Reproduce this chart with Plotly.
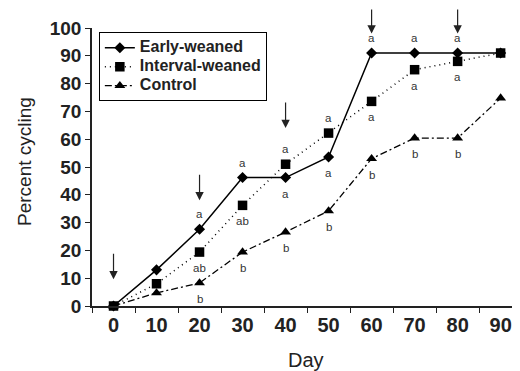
import plotly.graph_objects as go

days = [0, 10, 20, 30, 40, 50, 60, 70, 80, 90]
early = [0, 13, 27.6, 46.2, 46.2, 53.6, 91, 91, 91, 91]
interval = [0, 8, 19.4, 36.2, 51, 62.2, 73.6, 85, 88, 91]
control = [0, 4.7, 8.3, 19.4, 26.6, 34.2, 53, 60.4, 60.4, 74.8]

series_names = ["Early-weaned", "Interval-weaned", "Control"]

# significance letters and whether they sit above or below the point
early_letters = ["", "", "a", "a", "a", "a", "a", "a", "a", ""]
early_pos = ["", "", "above", "above", "below", "below", "above", "above", "above", ""]
interval_letters = ["", "", "ab", "ab", "a", "a", "a", "a", "a", ""]
interval_pos = ["", "", "below", "below", "above", "above", "below", "below", "below", ""]
control_letters = ["", "", "b", "b", "b", "b", "b", "b", "b", ""]
control_pos = ["", "", "below", "below", "below", "below", "below", "below", "below", ""]

arrow_days = [0, 20, 40, 60, 80]
arrow_tips = [9.6, 38, 64, 98, 98]

xtick_vals = days
xtick_text = [str(d) for d in days]
ytick_vals = [0, 10, 20, 30, 40, 50, 60, 70, 80, 90, 100]

FONT = "Liberation Sans, Arial, Helvetica, sans-serif"


def legend_label(s):
    return '<span style="font-size:16px">' + s + "</span>"


fig = go.Figure()
fig.add_trace(go.Scatter(x=days, y=early, name=legend_label(series_names[0]),
                         mode="lines+markers",
                         line=dict(color="black", width=1.5),
                         marker=dict(symbol="diamond", size=8.5, color="black"),
                         cliponaxis=False))
fig.add_trace(go.Scatter(x=days, y=interval, name=legend_label(series_names[1]),
                         mode="lines+markers",
                         line=dict(color="black", width=1.5, dash="1px,4px"),
                         marker=dict(symbol="square", size=9.5, color="black"),
                         cliponaxis=False))
fig.add_trace(go.Scatter(x=days, y=control, name=legend_label(series_names[2]),
                         mode="lines+markers",
                         line=dict(color="black", width=1.3, dash="7px,3px,2px,3px"),
                         marker=dict(symbol="triangle-up", size=9.5, color="black"),
                         cliponaxis=False))

annotations = []
for vals, letters, pos in [(early, early_letters, early_pos),
                           (interval, interval_letters, interval_pos),
                           (control, control_letters, control_pos)]:
    for d, v, t, p in zip(days, vals, letters, pos):
        if not t:
            continue
        annotations.append(dict(x=d, y=v, xref="x", yref="y", text=t, showarrow=False,
                                yshift=15 if p == "above" else -16,
                                font=dict(family=FONT, size=11.5, color="#333")))
for d, tip in zip(arrow_days, arrow_tips):
    annotations.append(dict(x=d, y=tip, xref="x", yref="y", text="", showarrow=True,
                            ax=0, ay=-27, arrowhead=2, arrowsize=1.4, arrowwidth=1.2,
                            arrowcolor="#222"))

annotations.append(dict(x=0, y=0.5, xref="paper", yref="paper", text="Percent cycling",
                        textangle=-90, showarrow=False, xanchor="center", yanchor="middle",
                        xshift=-68, yshift=5, font=dict(family=FONT, size=19, color="#222")))
annotations.append(dict(x=0.5, y=0, xref="paper", yref="paper", text="Day",
                        showarrow=False, xanchor="center", yanchor="middle",
                        yshift=-54, font=dict(family=FONT, size=20, color="#222")))

fig.update_layout(
    width=512, height=363,
    margin=dict(l=84, r=0, t=20, b=65),
    paper_bgcolor="white", plot_bgcolor="white",
    showlegend=True,
    legend=dict(x=0.016, y=0.985, xanchor="left", yanchor="top",
                bordercolor="black", borderwidth=1, bgcolor="white",
                font=dict(family=FONT, size=12, color="#222", weight="bold"),
                itemwidth=30, tracegroupgap=0),
    annotations=annotations,
    font=dict(family=FONT, color="#222"),
)
fig.update_xaxes(range=[-5, 94.5], showline=True, linecolor="#222", linewidth=1.5,
                 tickvals=xtick_vals, ticktext=xtick_text, ticks="",
                 tickfont=dict(family=FONT, size=20, color="#222", weight="bold"),
                 showgrid=False, zeroline=False,
                 minor=dict(tickmode="linear", tick0=-5, dtick=10, ticks="outside",
                            ticklen=5, tickwidth=1.2, tickcolor="#222", showgrid=False))
fig.update_yaxes(range=[0, 100], showline=True, linecolor="#222", linewidth=1.5,
                 tickvals=ytick_vals, ticks="outside", ticklen=5, tickwidth=1.2,
                 tickcolor="#222",
                 tickfont=dict(family=FONT, size=19, color="#222", weight="bold"),
                 showgrid=False, zeroline=False)

fig.write_html("out.html")
